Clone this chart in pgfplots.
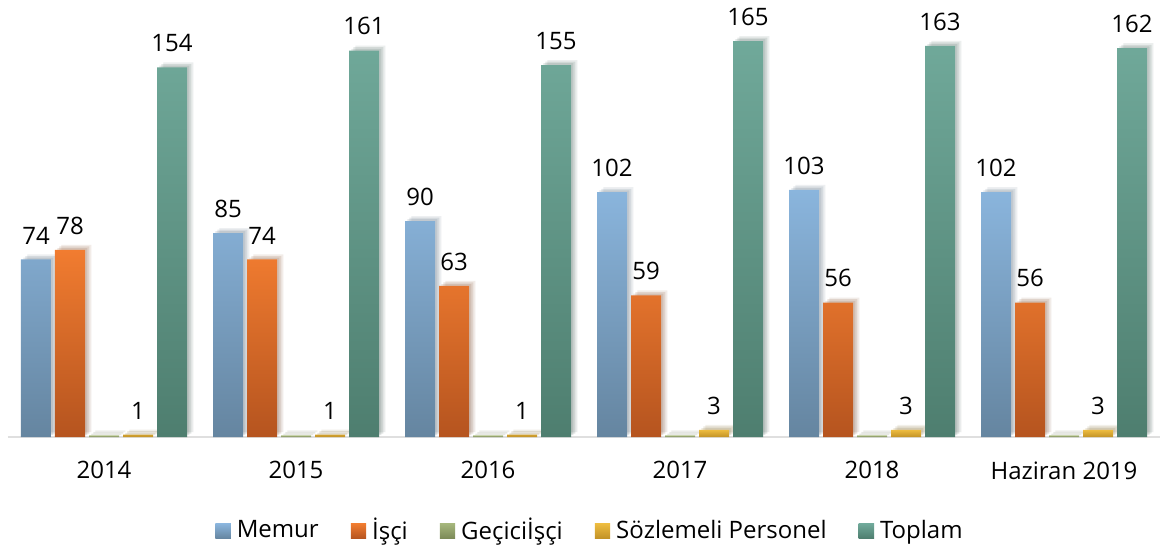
\documentclass[border=0pt]{standalone}
\usepackage{pgfplots}
\pgfplotsset{compat=1.18}
\usepackage{fontspec}
\setmainfont{Open Sans}
\definecolor{memT}{HTML}{8AB5DD}\definecolor{memB}{HTML}{6585A0}
\definecolor{iscT}{HTML}{F17C30}\definecolor{iscB}{HTML}{B5541F}
\definecolor{gecT}{HTML}{A5B67C}\definecolor{gecB}{HTML}{7C8A58}
\definecolor{sozT}{HTML}{EDBC40}\definecolor{sozB}{HTML}{C29226}
\definecolor{topT}{HTML}{70A99A}\definecolor{topB}{HTML}{4E7E6F}
\newcommand{\fs}{\fontsize{12}{14.4}\selectfont}
\tikzset{shad/.style={
     preaction={fill=black, fill opacity=0.07, transform canvas={xshift=1.2pt, yshift=0.9pt}},
     preaction={fill=black, fill opacity=0.07, transform canvas={xshift=2.2pt, yshift=1.7pt}},
     preaction={fill=black, fill opacity=0.05, transform canvas={xshift=3.2pt, yshift=2.5pt}}}}
\begin{document}
\fs
\begin{tikzpicture}
\useasboundingbox (-4pt,-55pt) rectangle (578.5pt,218.5pt);
\begin{axis}[
  scale only axis,
  width=576pt, height=216pt,
  xmin=-0.5, xmax=5.5, ymin=0, ymax=180,
  axis x line=bottom, axis line style={draw=gray!25, line width=0.8pt, -},
  hide y axis,
  xtick={0,1,2,3,4,5},
  xticklabels={2014,2015,2016,2017,2018,Haziran 2019},
  major tick length=0pt,
  xticklabel style={yshift=-8pt, font=\fs},
  bar width=15pt,
  /pgf/number format/assume math mode=true,
  nodes near coords style={font=\fs, color=black, yshift=3.5pt},
  every axis plot/.append style={draw=none},
  legend style={at={(0.5,0)}, anchor=center, yshift=-47pt, xshift=4pt, draw=none, fill=none,
    legend columns=-1, font=\fs,
    /tikz/every even column/.append style={column sep=13pt},
    /tikz/every odd column/.append style={column sep=0pt},
    /tikz/every node/.append style={inner xsep=3pt}},
  legend cell align=left,
]
\addplot[ybar, bar shift=-34pt, top color=memT, bottom color=memB, shad, nodes near coords,
  every node near coord/.append style={xshift=-34pt}, forget plot]
  coordinates {(0,74)(1,85)(2,90)(3,102)(4,103)(5,102)};
\addplot[ybar, bar shift=-17pt, top color=iscT, bottom color=iscB, shad, nodes near coords,
  every node near coord/.append style={xshift=-17pt}, forget plot]
  coordinates {(0,78)(1,74)(2,63)(3,59)(4,56)(5,56)};
\addplot[ybar, bar shift=0pt, top color=gecT, bottom color=gecB, shad, forget plot]
  coordinates {(0,0.7)(1,0.7)(2,0.7)(3,0.7)(4,0.7)(5,0.7)};
\addplot[ybar, bar shift=17pt, top color=sozT, bottom color=sozB, shad, nodes near coords,
  every node near coord/.append style={xshift=17pt}, forget plot]
  coordinates {(0,1)(1,1)(2,1)(3,3)(4,3)(5,3)};
\addplot[ybar, bar shift=34pt, top color=topT, bottom color=topB, shad, nodes near coords,
  every node near coord/.append style={xshift=34pt}, forget plot]
  coordinates {(0,154)(1,161)(2,155)(3,165)(4,163)(5,162)};
\addlegendimage{legend image code/.code={\fill[top color=memT,bottom color=memB] (0pt,-3.7pt) rectangle (7.7pt,3.7pt);}}
\addlegendentry{Memur}
\addlegendimage{legend image code/.code={\fill[top color=iscT,bottom color=iscB] (0pt,-3.7pt) rectangle (7.7pt,3.7pt);}}
\addlegendentry{İşçi}
\addlegendimage{legend image code/.code={\fill[top color=gecT,bottom color=gecB] (0pt,-3.7pt) rectangle (7.7pt,3.7pt);}}
\addlegendentry{Geçiciİşçi}
\addlegendimage{legend image code/.code={\fill[top color=sozT,bottom color=sozB] (0pt,-3.7pt) rectangle (7.7pt,3.7pt);}}
\addlegendentry{Sözlemeli Personel}
\addlegendimage{legend image code/.code={\fill[top color=topT,bottom color=topB] (0pt,-3.7pt) rectangle (7.7pt,3.7pt);}}
\addlegendentry{Toplam}
\end{axis}
\end{tikzpicture}
\end{document}
